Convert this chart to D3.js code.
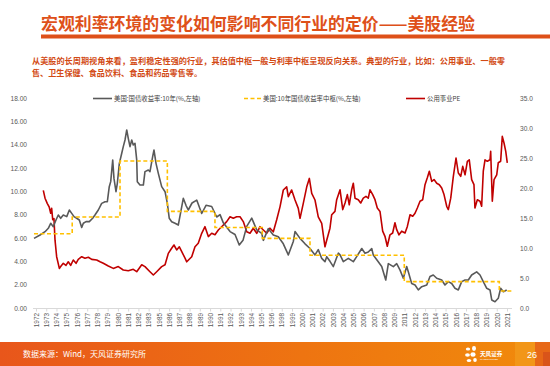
<!DOCTYPE html>
<html><head><meta charset="utf-8">
<script src="https://cdn.jsdelivr.net/npm/d3@7"></script>
<style>body{margin:0;background:#fff;} svg{display:block;}</style>
</head><body>
<svg id="c" width="550" height="366"></svg>
<script>
// ---------- text ----------
const titleText = "宏观利率环境的变化如何影响不同行业的定价——美股经验";
const noteLines = [
  "从美股的长周期视角来看，盈利稳定性强的行业，其估值中枢一般与利率中枢呈现反向关系。典型的行业，比如：公用事业、一般零",
  "售、卫生保健、食品饮料、食品和药品零售等。"
];
const sourceText = "数据来源：Wind，天风证券研究所";
const pageNumber = "26";
const legendNames = ["美国:国债收益率:10年(%,左轴)", "美国:10年国债收益率中枢(%,左轴)", "公用事业PE"];

// ---------- axes ----------
const yearLabels = ["1972","1973","1974","1975","1976","1977","1978","1979","1980","1981","1982","1983",
  "1985","1986","1987","1988","1989","1990","1991","1992","1993","1994","1995","1996",
  "1998","1999","2000","2001","2002","2003","2004","2005","2006","2007","2008","2009",
  "2011","2012","2013","2014","2015","2016","2017","2018","2019","2020","2021"];
const leftTicks = [0,2,4,6,8,10,12,14,16,18];
const rightTicks = [0,5,10,15,20,25,30,35];

// ---------- series: US 10Y treasury yield (%), left axis ----------
const yieldYears = [1972.00,1972.63,1973.15,1973.49,1973.74,1974.01,1974.29,1974.53,1974.78,1975.05,1975.41,1975.68,1975.93,
  1976.17,1976.45,1976.72,1976.97,1977.14,1977.42,1977.76,1978.11,1978.35,1978.70,1979.05,1979.40,1979.64,1979.84,1979.99,
  1980.20,1980.33,1980.54,1980.68,1980.89,1981.14,1981.30,1981.48,1981.66,1981.82,1982.00,1982.18,1982.34,1982.52,1982.70,
  1982.76,1983.04,1983.39,1983.56,1983.91,1984.08,1984.36,1984.50,1984.71,1984.95,1985.30,1985.65,1985.89,1986.09,1986.34,
  1986.69,1987.03,1987.55,1987.83,1988.07,1988.46,1988.95,1989.47,1989.92,1990.51,1991.03,1991.38,1991.72,1992.42,1992.94,
  1993.38,1993.77,1994.16,1994.68,1995.20,1995.72,1995.89,1996.41,1996.93,1997.45,1997.97,1998.49,1999.01,1999.19,1999.71,
  2000.23,2000.75,2001.27,2001.61,2001.97,2002.31,2002.49,2002.83,2003.18,2003.70,2003.88,2004.22,2004.74,2005.26,2005.61,
  2006.14,2006.48,2006.82,2007.18,2007.34,2007.86,2008.22,2008.64,2008.91,2009.43,2009.78,2010.13,2010.47,2010.82,2010.99,
  2011.34,2011.69,2012.03,2012.39,2012.91,2013.25,2013.59,2013.95,2014.47,2014.81,2015.16,2015.51,2015.85,2016.20,2016.55,
  2016.90,2017.24,2017.59,2018.11,2018.46,2018.80,2019.16,2019.50,2019.68,2020.02,2020.36,2020.61,2020.89,2021.24];
const yieldValues = [5.97,6.26,6.54,6.83,7.26,6.97,7.54,7.97,7.69,7.97,7.83,8.40,8.11,
  7.83,7.69,7.54,6.91,7.26,7.40,7.40,7.69,7.97,8.40,8.97,9.11,9.11,10.40,10.83,
  12.69,11.11,9.97,10.69,12.40,13.26,13.83,14.40,15.26,14.54,13.83,14.40,13.97,14.11,12.69,
  10.83,10.54,10.54,11.69,11.83,11.69,12.97,13.54,12.40,11.54,10.40,9.97,8.97,7.69,7.40,
  7.26,7.11,9.40,8.80,8.40,9.00,9.25,8.10,8.80,8.70,7.80,8.00,7.30,6.55,6.30,
  5.40,5.80,7.00,7.70,6.70,6.40,5.80,6.80,6.25,6.10,5.50,4.55,5.70,6.55,5.97,
  5.50,5.10,4.55,5.00,4.25,3.97,4.40,4.00,3.55,4.70,4.55,3.97,4.25,3.97,4.40,
  5.10,4.70,4.80,5.10,4.55,3.97,3.55,2.40,3.80,3.55,3.80,3.25,2.55,3.55,3.10,
  2.10,1.97,1.55,1.83,1.97,2.70,2.83,2.55,2.40,1.97,2.26,2.10,1.69,1.55,2.26,
  2.40,2.40,2.83,3.10,2.83,2.26,1.69,1.55,0.69,0.54,0.83,1.69,1.40,1.55];

// ---------- series: 10Y yield central level (%), left axis, step ----------
const centerStarts = [1972.00,1975.98,1980.96,1985.89,1990.85,1995.78,2000.75,2010.57,2020.47];
const centerValues = [6.37,7.80,12.60,8.28,6.90,5.97,4.52,2.26,1.46];
const centerEndYear = 2021.76;

// ---------- series: Utilities PE, right axis ----------
const peYears = [1972.97,1973.15,1973.39,1973.59,1973.74,1973.84,1973.95,1974.08,1974.19,1974.36,1974.64,1974.78,1975.05,
  1975.33,1975.57,1975.82,1976.09,1976.38,1976.61,1976.97,1977.31,1977.66,1978.01,1978.53,1978.88,1979.22,1979.74,1980.26,
  1980.78,1981.30,1981.82,1982.34,1982.70,1983.22,1983.56,1984.08,1984.43,1984.78,1985.30,1985.65,1985.99,1986.34,1986.58,
  1986.86,1987.14,1987.39,1987.73,1987.91,1988.43,1988.77,1989.11,1989.47,1989.81,1990.16,1990.51,1990.85,1991.20,1991.55,
  1992.07,1992.42,1992.76,1993.11,1993.46,1993.80,1994.16,1994.50,1994.84,1995.20,1995.54,1995.89,1996.24,1996.58,1996.93,
  1997.28,1997.63,1997.97,1998.32,1998.49,1998.84,1999.19,1999.53,1999.71,2000.05,2000.41,2000.68,2000.93,2001.27,2001.61,
  2001.97,2002.31,2002.49,2002.83,2003.01,2003.35,2003.53,2003.88,2004.16,2004.40,2004.64,2004.84,2005.09,2005.26,2005.44,
  2005.78,2006.03,2006.30,2006.58,2006.82,2007.00,2007.28,2007.52,2007.76,2008.04,2008.32,2008.56,2008.80,2009.08,2009.36,
  2009.60,2009.78,2010.02,2010.30,2010.65,2010.89,2011.17,2011.45,2011.69,2011.93,2012.21,2012.49,2012.73,2012.97,2013.18,
  2013.43,2013.67,2013.95,2014.22,2014.47,2014.71,2014.99,2015.16,2015.41,2015.68,2015.96,2016.20,2016.45,2016.66,2016.90,
  2017.14,2017.34,2017.59,2017.83,2017.93,2018.18,2018.46,2018.63,2018.80,2018.98,2019.22,2019.50,2019.57,2019.74,2019.92,
  2020.20,2020.36,2020.61,2020.78,2020.96,2021.14,2021.30];
const peValues = [19.6,18.3,17.4,16.8,15.8,16.6,14.7,14.9,11.3,8.55,6.6,6.9,7.45,
  7.1,7.7,7.1,8.0,7.45,8.1,8.55,8.3,8.45,8.1,8.0,7.7,7.45,7.0,6.6,
  6.9,6.33,6.2,6.45,6.05,7.2,6.9,6.05,5.5,6.05,6.9,7.2,9.1,9.95,10.5,
  9.67,10.2,9.4,8.3,7.7,8.55,10.2,10.8,12.45,13.55,11.9,12.45,12.2,13.0,13.55,
  14.4,15.2,14.95,15.2,15.2,14.4,12.7,12.45,13.3,12.45,13.55,13.0,12.45,13.3,12.7,
  14.7,16.9,19.67,20.2,18.55,19.67,18.0,16.6,14.95,17.45,20.2,21.6,19.1,18.0,15.2,
  14.1,10.2,11.3,13.3,15.55,16.1,18.05,19.7,16.4,17.5,18.9,17.2,19.7,20.8,18.3,
  18.05,17.5,18.3,18.6,18.3,19.7,18.9,18.05,16.67,16.1,12.8,11.95,10.3,12.2,12.5,
  14.2,13.05,12.2,12.8,12.5,13.6,15.55,15.3,15.8,16.67,17.8,18.05,20.55,21.7,22.8,
  21.1,21.4,20.8,20.55,20.0,18.9,16.95,16.4,18.3,21.95,25.0,22.5,21.95,23.6,22.2,
  24.45,24.7,21.4,20.55,16.67,18.05,17.8,16.95,22.8,24.7,24.45,24.7,26.1,17.8,21.4,
  22.2,24.2,24.45,28.6,27.5,26.1,24.2];

// ---------- drawing ----------
const svg = d3.select("#c");
const ORANGE = "#DE5019";
const CJK = "'Noto Sans CJK SC','Noto Sans',sans-serif";
const NUM = "'Liberation Sans',Arial,sans-serif";

// title
svg.append("text").attr("x", 41).attr("y", 30)
  .attr("font-family", CJK).attr("font-weight", "bold").attr("font-size", 16.7)
  .attr("fill", ORANGE).attr("textLength", 434).attr("lengthAdjust", "spacingAndGlyphs")
  .text(titleText);
svg.append("rect").attr("x", 41).attr("y", 34.5).attr("width", 509).attr("height", 4).attr("fill", ORANGE);

// notes
svg.selectAll("text.note").data(noteLines).join("text").attr("class", "note")
  .attr("x", 32).attr("y", (d, i) => 64 + i * 12)
  .attr("font-family", CJK).attr("font-weight", "bold").attr("font-size", 8.1)
  .attr("fill", "#D24A14")
  .attr("textLength", (d, i) => i === 0 ? 473 : null)
  .attr("lengthAdjust", "spacingAndGlyphs")
  .text(d => d);

// scales
const x = d3.scaleLinear().domain([1972, centerEndYear]).range([34, 511.7]);
const xl = d3.scalePoint().domain(yearLabels).range([36, 507]);
const yL = d3.scaleLinear().domain([0, 18]).range([308, 98]);
const yR = d3.scaleLinear().domain([0, 35]).range([308, 98]);

// left axis
const gL = svg.append("g").attr("transform", "translate(33,0)")
  .call(d3.axisLeft(yL).tickValues(leftTicks).tickFormat(d3.format(".2f")).tickSize(0).tickPadding(6));
gL.select(".domain").remove();
gL.selectAll("text").attr("font-family", NUM).attr("font-size", 6.6).attr("fill", "#595959");

// right axis
const gR = svg.append("g").attr("transform", "translate(512,0)")
  .call(d3.axisRight(yR).tickValues(rightTicks).tickFormat(d3.format(".1f")).tickSize(0).tickPadding(8));
gR.select(".domain").remove();
gR.selectAll("text").attr("font-family", NUM).attr("font-size", 6.6).attr("fill", "#595959");

// bottom axis
svg.append("line").attr("x1", 33).attr("x2", 512).attr("y1", 308.5).attr("y2", 308.5)
  .attr("stroke", "#d9d9d9").attr("stroke-width", 1);
const gB = svg.append("g").attr("transform", "translate(0,308.5)")
  .call(d3.axisBottom(xl).tickSize(3));
gB.select(".domain").remove();
gB.selectAll(".tick line").attr("stroke", "#d9d9d9");
gB.selectAll("text").attr("font-family", NUM).attr("font-size", 6.4).attr("fill", "#595959")
  .attr("transform", "rotate(-90)").attr("x", -4.5).attr("y", 0).attr("dy", "0.35em")
  .style("text-anchor", "end");

// series
const yieldData = yieldYears.map((t, i) => [t, yieldValues[i]]);
const peData = peYears.map((t, i) => [t, peValues[i]]);
const centerData = centerStarts.map((t, i) => [t, centerValues[i]]);
centerData.push([centerEndYear, centerValues[centerValues.length - 1]]);

svg.append("path").datum(peData)
  .attr("d", d3.line().x(d => x(d[0])).y(d => yR(d[1])))
  .attr("fill", "none").attr("stroke", "#C00000").attr("stroke-width", 1.6).attr("stroke-linejoin", "round");
svg.append("path").datum(yieldData)
  .attr("d", d3.line().x(d => x(d[0])).y(d => yL(d[1])))
  .attr("fill", "none").attr("stroke", "#595959").attr("stroke-width", 1.6).attr("stroke-linejoin", "round");
svg.append("path").datum(centerData)
  .attr("d", d3.line().curve(d3.curveStepAfter).x(d => x(d[0])).y(d => yL(d[1])))
  .attr("fill", "none").attr("stroke", "#FFC000").attr("stroke-width", 1.6).attr("stroke-dasharray", "4,2.5");

// legend
const legendItems = [
  {name: legendNames[0], x1: 93, x2: 112, color: "#595959", dash: null},
  {name: legendNames[1], x1: 244, x2: 261, color: "#FFC000", dash: "4,2.5"},
  {name: legendNames[2], x1: 406, x2: 425, color: "#C00000", dash: null}
];
const lg = svg.append("g");
legendItems.forEach(it => {
  lg.append("line").attr("x1", it.x1).attr("x2", it.x2).attr("y1", 98.5).attr("y2", 98.5)
    .attr("stroke", it.color).attr("stroke-width", 1.6).attr("stroke-dasharray", it.dash);
  lg.append("text").attr("x", it.x2 + 2).attr("y", 98.5).attr("dy", "0.35em")
    .attr("font-family", CJK).attr("font-size", 6.4).attr("fill", "#404040").text(it.name);
});

// footer
const defs = svg.append("defs");
const grad = defs.append("linearGradient").attr("id", "fg").attr("x1", "0").attr("x2", "1").attr("y1", "0").attr("y2", "0");
grad.append("stop").attr("offset", "0").attr("stop-color", "#E8561B");
grad.append("stop").attr("offset", "0.55").attr("stop-color", "#EE7411");
grad.append("stop").attr("offset", "1").attr("stop-color", "#F18B0B");
svg.append("rect").attr("x", 0).attr("y", 342).attr("width", 550).attr("height", 24).attr("fill", "url(#fg)");
svg.append("rect").attr("x", 515).attr("y", 342).attr("width", 20).attr("height", 24).attr("fill", "#F39A1C").attr("opacity", 0.8);
svg.append("rect").attr("x", 535).attr("y", 342).attr("width", 15).attr("height", 24).attr("fill", "#E66418").attr("opacity", 0.9);
svg.append("rect").attr("x", 543).attr("y", 352).attr("width", 7).attr("height", 14).attr("fill", "#D9541A");
svg.append("text").attr("x", 23).attr("y", 357).attr("font-family", CJK).attr("font-size", 8)
  .attr("fill", "#fff").text(sourceText);
svg.append("text").attr("x", 532).attr("y", 357.5).attr("text-anchor", "middle").attr("font-family", NUM)
  .attr("font-size", 9).attr("fill", "#fff").text(pageNumber);

// logo
const logo = svg.append("g").attr("fill", "#fff");
[[468, 349, 2.2, 1.6], [474, 348.5, 2.0, 2.4], [467.5, 355, 2.4, 1.8], [473, 354.5, 2.6, 2.2], [469, 360.5, 2.2, 1.6], [475, 360, 1.8, 2.0]]
  .forEach(e => logo.append("ellipse").attr("cx", e[0]).attr("cy", e[1]).attr("rx", e[2]).attr("ry", e[3]));
logo.append("text").attr("x", 480).attr("y", 355.5).attr("font-family", CJK).attr("font-weight", "bold")
  .attr("font-size", 5.6).text("天风证券");
logo.append("text").attr("x", 480).attr("y", 360).attr("font-family", NUM)
  .attr("font-size", 2.4).text("TF SECURITIES");
</script>
</body></html>
